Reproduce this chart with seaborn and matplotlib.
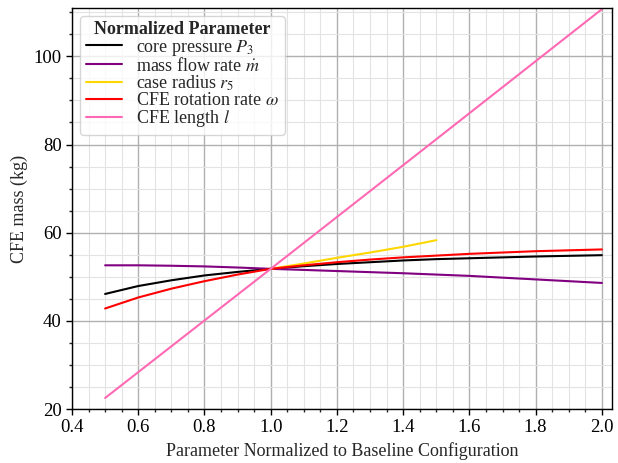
import matplotlib
matplotlib.use("Agg")
import matplotlib.pyplot as plt
import seaborn as sns
import pandas as pd
from matplotlib.ticker import MultipleLocator

sns.set_theme(style="ticks")
plt.rcParams['font.family'] = ['Liberation Serif', 'DejaVu Serif']
plt.rcParams['mathtext.fontset'] = 'stix'

x_full = [0.5, 0.6, 0.7, 0.8, 0.9, 1.0, 1.1, 1.2, 1.3, 1.4, 1.5, 1.6, 1.7, 1.8, 1.9, 2.0]
core_pressure = [46.1, 47.9, 49.2, 50.3, 51.1, 51.8, 52.4, 52.9, 53.3, 53.7, 54.0, 54.2, 54.4, 54.6, 54.75, 54.9]
mass_flow = [52.6, 52.6, 52.5, 52.35, 52.1, 51.8, 51.55, 51.3, 51.05, 50.8, 50.5, 50.2, 49.8, 49.4, 49.0, 48.6]
x_radius = [1.0, 1.1, 1.2, 1.3, 1.4, 1.5]
case_radius = [51.8, 53.0, 54.3, 55.5, 56.8, 58.3]
rotation_rate = [42.8, 45.3, 47.3, 49.0, 50.5, 51.8, 52.6, 53.3, 53.9, 54.4, 54.8, 55.2, 55.5, 55.8, 56.0, 56.2]
x_length = [0.5, 1.0, 1.5, 2.0]
cfe_length = [22.5, 51.8, 81.2, 110.7]

series = [
    (r"core pressure $P_3$", x_full, core_pressure, "black"),
    (r"mass flow rate $\dot{m}$", x_full, mass_flow, "purple"),
    (r"case radius $r_5$", x_radius, case_radius, "gold"),
    (r"CFE rotation rate $\omega$", x_full, rotation_rate, "red"),
    (r"CFE length $l$", x_length, cfe_length, "hotpink"),
]

fig = plt.figure(figsize=(6.18, 4.63), dpi=100)
ax = fig.add_axes([0.1165, 0.1166, 0.8735, 0.8664])

for label, xs, ys, color in series:
    df = pd.DataFrame({"x": xs, "y": ys})
    sns.lineplot(data=df, x="x", y="y", ax=ax, color=color, label=label, linewidth=1.5)

ax.set_xlim(0.4, 2.03)
ax.set_ylim(20, 111)
ax.xaxis.set_major_locator(MultipleLocator(0.2))
ax.xaxis.set_minor_locator(MultipleLocator(0.05))
ax.yaxis.set_major_locator(MultipleLocator(20))
ax.yaxis.set_minor_locator(MultipleLocator(5))
ax.grid(which="major", color="#b0b0b0", linewidth=1.0)
ax.grid(which="minor", color="#e3e3e3", linewidth=0.8)
ax.set_axisbelow(True)
ax.tick_params(which="major", direction="out", length=4, width=1, labelsize=13.5, colors="black")
ax.tick_params(which="minor", direction="out", length=2.5, width=1)
for s in ax.spines.values():
    s.set_color("black")
    s.set_linewidth(1.0)

ax.set_xlabel("Parameter Normalized to Baseline Configuration", fontsize=13)
ax.set_ylabel("CFE mass (kg)", fontsize=13)

leg = ax.legend(loc="upper left", title="Normalized Parameter", fontsize=13,
                title_fontproperties={"weight": "bold", "size": 13, "family": "Liberation Serif"},
                frameon=True, fancybox=True, framealpha=0.8, handlelength=2.0,
                borderaxespad=0.45, labelspacing=-0.05, borderpad=0.3, handletextpad=0.8)
leg.get_frame().set_edgecolor("#cccccc")

fig.savefig("out.png", dpi=100)
